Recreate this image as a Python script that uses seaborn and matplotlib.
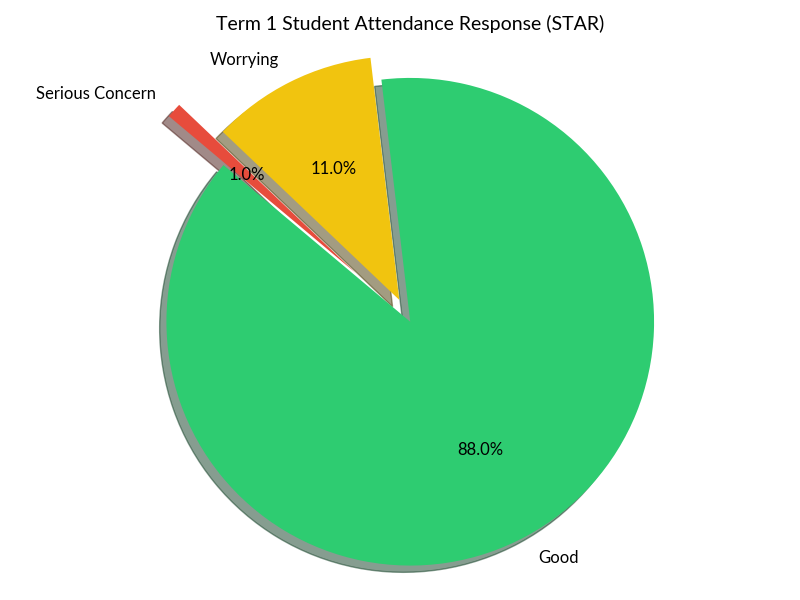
import matplotlib
matplotlib.use("Agg")
import matplotlib.pyplot as plt
import seaborn as sns

labels = ["Good", "Worrying", "Serious Concern"]
values = [88, 11, 1]
colors = ["#2ecc71", "#f1c40f", "#e74c3c"]
explode = [0, 0.1, 0.3]

sns.set_style("white")
plt.rcParams['font.family'] = ['Lato', 'DejaVu Sans']
plt.rcParams['text.color'] = 'black'
plt.rcParams['patch.force_edgecolor'] = False

fig, ax = plt.subplots(figsize=(8, 6), dpi=100)
ax.pie(values, labels=labels, colors=colors, explode=explode,
       autopct='%1.1f%%', shadow=True, startangle=140,
       wedgeprops={'linewidth': 1, 'edgecolor': 'none'},
       textprops={'fontsize': 12, 'color': 'black'})
ax.axis('equal')
ax.set_title("Term 1 Student Attendance Response (STAR)", fontsize=14, color='black')
fig.tight_layout()
fig.savefig("out.png", dpi=100)
